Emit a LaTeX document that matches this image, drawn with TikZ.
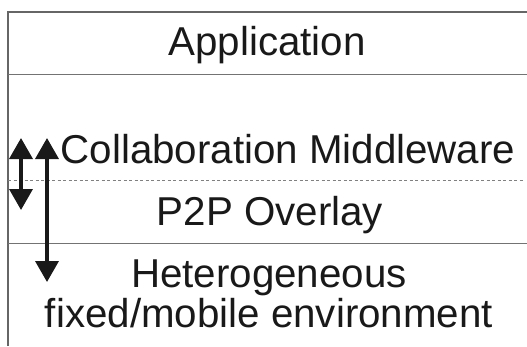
\documentclass[tikz,border=0pt]{standalone}
\usepackage{fontspec}
\setmainfont{Liberation Sans}
\usetikzlibrary{arrows.meta}
\begin{document}
\begin{tikzpicture}[x=1pt,y=1pt,
  frame/.style={draw=black!60, line width=1.3pt},
  sep/.style={draw=black!55, line width=1pt},
  dotsep/.style={draw=black!50, line width=0.8pt, dash pattern=on 3pt off 2.5pt},
  lbl/.style={inner sep=0pt, anchor=base, font=\fontsize{40.3}{40}\selectfont, text=black!90},
  biarrow/.style={line width=3.6pt, black!90, {Triangle[width=23pt,length=21pt]}-{Triangle[width=23pt,length=21pt]}}]
\useasboundingbox (0,0) rectangle (527,-346);
\draw[frame] (8,-346) -- (8,-12) -- (527,-12);
\draw[sep] (8,-74) -- (527,-74);
\draw[dotsep] (8,-180) -- (524,-180);
\draw[sep] (8,-243) -- (527,-243);
\node[lbl] (app) at (267,-55) {Application};
\node[lbl] (collab) at (288,-163) {Collaboration Middleware};
\node[lbl] (p2p) at (270,-225) {P2P Overlay};
\node[lbl, align=center] (env) at (269,-327) {Heterogeneous\\fixed/mobile environment};
\coordinate (a1t) at (21,-138);
\coordinate (a1b) at (21,-210);
\coordinate (a2t) at (47,-138);
\coordinate (a2b) at (47,-282);
\draw[biarrow] (a1t) -- (a1b);
\draw[biarrow] (a2t) -- (a2b);
\end{tikzpicture}
\end{document}
